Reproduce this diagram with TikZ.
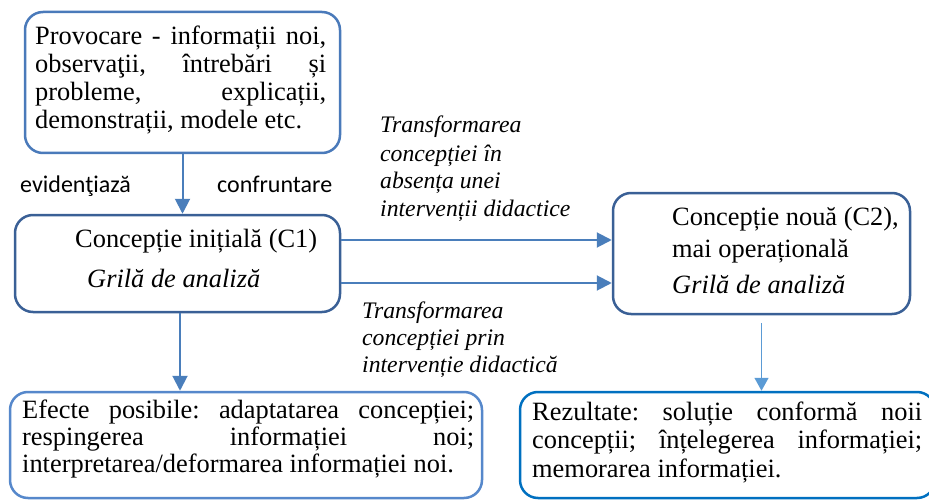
\documentclass[tikz,border=0pt]{standalone}
\usepackage{fontspec}
\setmainfont{Liberation Serif}
\newfontfamily\labelsans{Carlito}
\usetikzlibrary{arrows.meta}

\definecolor{frameA}{RGB}{74,122,186}
\definecolor{frameB}{RGB}{58,96,150}
\definecolor{frameC}{RGB}{86,136,203}
\definecolor{frameD}{RGB}{0,112,192}
\definecolor{arrowblue}{RGB}{74,126,187}
\definecolor{thinblue}{RGB}{91,155,213}

\frenchspacing

\begin{document}
\begin{tikzpicture}[x=1pt,y=-1pt,
  panel/.style={draw, line width=2.5pt, rounded corners=18pt, inner sep=0pt},
  body/.style={anchor=base west, inner sep=0pt, font=\fontsize{26.4}{29}\selectfont},
  note/.style={anchor=base west, inner sep=0pt, font=\fontsize{23.7}{27}\selectfont\itshape},
  tag/.style={anchor=base west, inner sep=0pt, font=\labelsans\fontsize{24}{28}\selectfont},
  link/.style={draw=arrowblue, line width=2pt, -{Triangle[length=15pt,width=15pt]}},
  thinlink/.style={draw=thinblue, line width=1.5pt, -{Triangle[length=13pt,width=14pt]}}]

\useasboundingbox (0,0) rectangle (929,500);

% frames
\node[panel, draw=frameA, minimum width=315pt, minimum height=141pt] (prov) at (182.5,82.5) {};
\node[panel, draw=frameB, minimum width=325pt, minimum height=97pt] (c1) at (177.5,263.5) {};
\node[panel, draw=frameB, minimum width=297pt, minimum height=121pt] (c2) at (761.5,253.5) {};
\node[panel, draw=frameC, minimum width=472pt, minimum height=106pt] (ef) at (246,445) {};
\node[panel, draw=frameD, minimum width=415pt, minimum height=106pt] (rez) at (727.5,445) {};

% challenge box text
\node[body] (p1) at (35,45) {\makebox[291pt][s]{Provocare - informații noi,}};
\node[body] (p2) at (35,73) {\makebox[291pt][s]{observaţii, întrebări și}};
\node[body] (p3) at (35,101) {\makebox[291pt][s]{probleme, explicații,}};
\node[body] (p4) at (35,129) {demonstrații, modele etc.};

% initial conception
\node[body] (c1a) at (75,247) {Concepție inițială (C1)};
\node[body, font=\fontsize{26.4}{29}\selectfont\itshape] (c1b) at (87,287) {Grilă de analiză};

% new conception
\node[body] (c2a) at (672,225) {Concepție nouă (C2),};
\node[body] (c2b) at (672,257) {mai operațională};
\node[body, font=\fontsize{26.4}{29}\selectfont\itshape] (c2c) at (672,293) {Grilă de analiză};

% possible effects
\node[body] (e1) at (22,418) {\makebox[452pt][s]{Efecte posibile: adaptatarea concepției;}};
\node[body] (e2) at (22,445) {\makebox[452pt][s]{respingerea informației noi;}};
\node[body] (e3) at (22,472) {interpretarea/deformarea informației noi.};

% results
\node[body] (r1) at (532,420) {\makebox[390pt][s]{Rezultate: soluție conformă noii}};
\node[body] (r2) at (532,448) {\makebox[390pt][s]{concepții; înțelegerea informației;}};
\node[body] (r3) at (532,477) {memorarea informației.};

% connector labels
\node[tag] (t1) at (20,193) {evidenţiază};
\node[tag] (t2) at (217,193) {confruntare};

\node[note] (n1) at (380,133) {Transformarea};
\node[note] (n2) at (380,161) {concepției în};
\node[note] (n3) at (380,188) {absența unei};
\node[note] (n4) at (380,216) {intervenții didactice};

\node[note] (m1) at (362,318) {Transformarea};
\node[note] (m2) at (362,345) {concepției prin};
\node[note] (m3) at (362,372) {intervenție didactică};

% connectors
\draw[link] (prov.south) -- (prov.south |- c1.north);
\draw[link] ([yshift=23.5pt]c1.east) -- ([yshift=23.5pt]c1.east -| c2.west);
\draw[link] ([yshift=-19.5pt]c1.east) -- ([yshift=-19.5pt]c1.east -| c2.west);
\draw[link] ([xshift=2.5pt]c1.south) -- ([xshift=2.5pt]c1.south |- ef.north);
\draw[thinlink] ([yshift=-8pt]c2.south) -- (c2.south |- rez.north);

\end{tikzpicture}
\end{document}
